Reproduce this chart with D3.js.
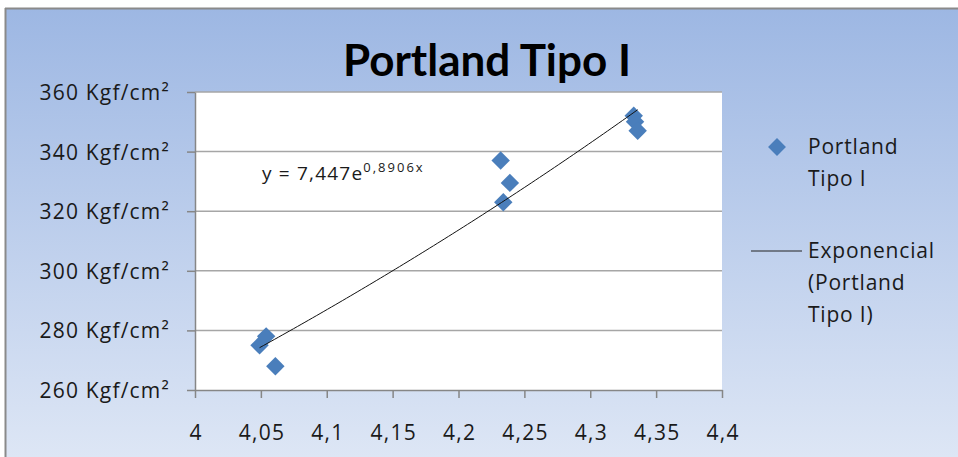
<!DOCTYPE html>
<html>
<head>
<meta charset="utf-8">
<script src="https://cdn.jsdelivr.net/npm/d3@7"></script>
<style>
  body { margin: 0; background: #ffffff; }
  svg { display: block; }
  text { fill: #1a1a1a; }
</style>
</head>
<body>
<svg id="chart" width="958" height="457"></svg>
<script>
// Compressive strength samples (x: log-scale value, y: Kgf/cm²)
const sampleX = [4.049, 4.054, 4.061, 4.232, 4.239, 4.234, 4.333, 4.334, 4.336];
const sampleY = [275, 278, 268, 337, 329.5, 323, 352, 350, 347];
const xTickValues = [4, 4.05, 4.1, 4.15, 4.2, 4.25, 4.3, 4.35, 4.4];
const yTickValues = [260, 280, 300, 320, 340, 360];
const yUnit = " Kgf/cm²";
const trendCoef = 7.447;
const trendExp = 0.8906;
const chartTitle = "Portland Tipo I";
const seriesName = ["Portland", "Tipo I"];
const trendName = ["Exponencial", "(Portland", "Tipo I)"];

const bodyFont = "'Open Sans', Lato, sans-serif";
const titleFont = "Lato, 'Open Sans', sans-serif";

const svg = d3.select("#chart");
const W = 958, H = 457;
const plot = { left: 195, right: 722, top: 92, bottom: 390 };

// background gradient
const defs = svg.append("defs");
const grad = defs.append("linearGradient").attr("id", "bg")
  .attr("x1", 0).attr("y1", 0).attr("x2", 0).attr("y2", 1);
grad.append("stop").attr("offset", "0%").attr("stop-color", "#9db7e3");
grad.append("stop").attr("offset", "100%").attr("stop-color", "#dde6f5");

svg.append("rect").attr("x", 5).attr("y", 8).attr("width", W - 5).attr("height", H - 8)
  .attr("fill", "url(#bg)");
svg.append("line").attr("x1", 5).attr("x2", W).attr("y1", 8.5).attr("y2", 8.5)
  .attr("stroke", "#8a8a8a").attr("stroke-width", 2);
svg.append("line").attr("x1", 5.5).attr("x2", 5.5).attr("y1", 8).attr("y2", H)
  .attr("stroke", "#8a8a8a").attr("stroke-width", 2);

const x = d3.scaleLinear().domain([4, 4.4]).range([plot.left, plot.right]);
const y = d3.scaleLinear().domain([260, 360]).range([plot.bottom, plot.top]);
const comma = v => String(v).replace(".", ",");

// plot area
svg.append("rect").attr("x", plot.left).attr("y", plot.top)
  .attr("width", plot.right - plot.left).attr("height", plot.bottom - plot.top)
  .attr("fill", "#ffffff");

// horizontal gridlines
svg.append("g").selectAll("line").data(yTickValues.filter(v => v !== 260)).join("line")
  .attr("x1", plot.left).attr("x2", plot.right)
  .attr("y1", d => y(d)).attr("y2", d => y(d))
  .attr("stroke", "#a6a6a6").attr("stroke-width", 1.5);

// axes
const xAxis = svg.append("g").attr("transform", `translate(0,${plot.bottom})`)
  .call(d3.axisBottom(x).tickValues(xTickValues).tickFormat(comma).tickSize(8).tickSizeOuter(0).tickPadding(35));
const yAxis = svg.append("g").attr("transform", `translate(${plot.left},0)`)
  .call(d3.axisLeft(y).tickValues(yTickValues).tickFormat(d => d + yUnit).tickSize(8).tickSizeOuter(0).tickPadding(17));
[xAxis, yAxis].forEach(g => {
  g.select(".domain").attr("stroke", "#868686").attr("stroke-width", 1.5);
  g.selectAll(".tick line").attr("stroke", "#868686").attr("stroke-width", 1.5);
  g.selectAll("text").style("font-family", bodyFont).style("font-size", "21px")
    .style("letter-spacing", "1.2px").style("fill", "#1a1a1a");
});
xAxis.selectAll("text").attr("dy", "0.32em").attr("dx", 0.6);
yAxis.selectAll("text").attr("dy", "0.36em");

// exponential trendline across the sample range
const xs = d3.range(0, 101).map(i => d3.min(sampleX) + (d3.max(sampleX) - d3.min(sampleX)) * i / 100);
const trendLine = d3.line().x(d => x(d)).y(d => y(trendCoef * Math.exp(trendExp * d)));

// sample markers
const diamond = d3.symbol().type(d3.symbolSquare).size(170);
svg.append("g").selectAll("path").data(sampleX.map((v, i) => [v, sampleY[i]])).join("path")
  .attr("d", diamond)
  .attr("transform", d => `translate(${x(d[0])},${y(d[1])}) rotate(45)`)
  .attr("fill", "#4a7ebb");

// trendline drawn over the markers
svg.append("path")
  .datum(xs)
  .attr("d", trendLine)
  .attr("fill", "none").attr("stroke", "#111").attr("stroke-width", 1);

// title
svg.append("text").attr("x", 487).attr("y", 76).attr("text-anchor", "middle")
  .style("font-family", titleFont).style("font-size", "44px").style("font-weight", "bold")
  .style("fill", "#000").text(chartTitle);

// equation
const eq = svg.append("text").attr("x", 262).attr("y", 180)
  .style("font-family", bodyFont).style("font-size", "19px");
eq.append("tspan").style("letter-spacing", "1.2px").text(`y = ${comma(trendCoef)}e`);
eq.append("tspan").attr("dy", -8).style("font-size", "13px").style("letter-spacing", "2px")
  .text(`${comma(trendExp)}x`);

// legend
const lg = svg.append("g");
lg.append("path").attr("d", d3.symbol().type(d3.symbolSquare).size(160))
  .attr("transform", "translate(777,147) rotate(45)").attr("fill", "#4a7ebb");
lg.append("text").style("font-family", bodyFont).style("font-size", "21px").style("letter-spacing", "0.8px")
  .selectAll("tspan").data(seriesName).join("tspan")
  .attr("x", 808).attr("y", (d, i) => 154 + i * 32).text(d => d);
lg.append("line").attr("x1", 751).attr("x2", 802).attr("y1", 251).attr("y2", 251)
  .attr("stroke", "#222").attr("stroke-width", 1);
lg.append("text").style("font-family", bodyFont).style("font-size", "21px").style("letter-spacing", "0.8px")
  .selectAll("tspan").data(trendName).join("tspan")
  .attr("x", 808).attr("y", (d, i) => 258 + i * 32).text(d => d);
</script>
</body>
</html>
